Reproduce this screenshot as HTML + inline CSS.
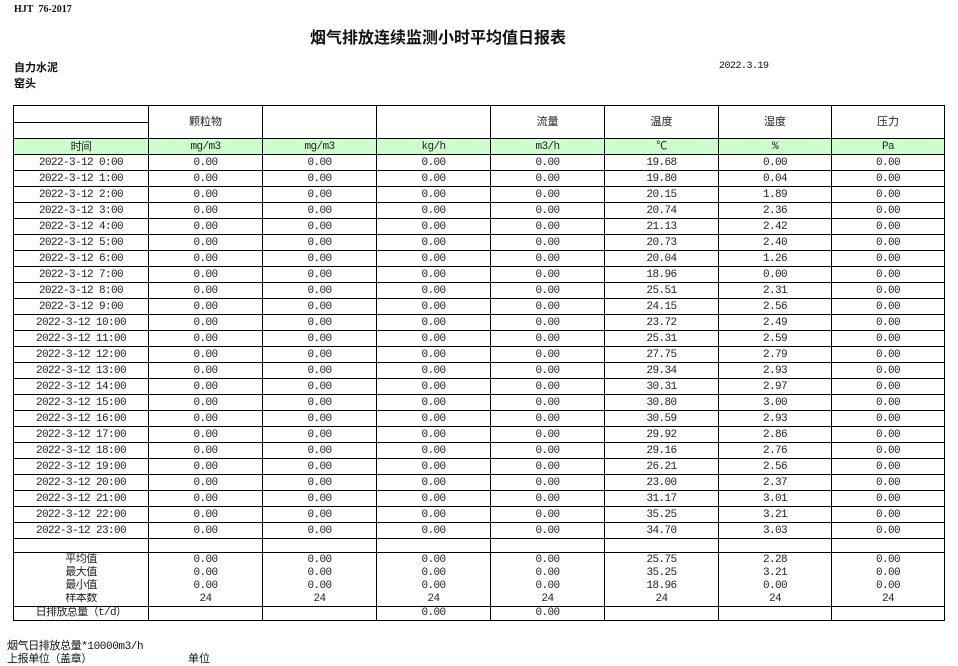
<!DOCTYPE html>
<html><head><meta charset="utf-8"><style>
body{margin:0;width:958px;height:665px;background:#fff;position:relative;overflow:hidden;font-family:"Liberation Mono","Noto Sans CJK SC",monospace;color:#111}
.a{position:absolute;white-space:nowrap}
table{position:absolute;left:13px;top:105px;border-collapse:collapse;table-layout:fixed;width:931px}
td{border:1px solid #000;padding:0;text-align:center;font-size:11px;letter-spacing:-0.6px;line-height:12px;overflow:hidden;white-space:nowrap;font-family:"Liberation Mono","Noto Sans CJK SC",monospace;color:#222}
tr.d td{height:15px}
tr.s td{height:13.2px;line-height:12px}
.g td{background:#ccffcc}
.h td{font-family:"Liberation Sans","Noto Sans CJK SC",sans-serif;letter-spacing:0}
</style></head><body>
<div class="a" style="left:14px;top:4px;font-size:10px;font-weight:bold;font-family:'Liberation Serif',serif">HJT&nbsp;&nbsp;76-2017</div>
<div class="a" style="left:310px;top:24px;font-size:16px;font-weight:bold;font-family:'Liberation Sans','Noto Sans CJK SC',sans-serif">烟气排放连续监测小时平均值日报表</div>
<div class="a" style="left:14px;top:59px;font-size:11px;font-weight:bold;font-family:'Liberation Sans','Noto Sans CJK SC',sans-serif">自力水泥</div>
<div class="a" style="left:14px;top:75px;font-size:11px;font-weight:bold;font-family:'Liberation Sans','Noto Sans CJK SC',sans-serif">窑头</div>
<div class="a" style="left:719px;top:61px;font-size:10px;letter-spacing:-0.5px">2022.3.19</div>
<table>
<colgroup><col style="width:135px"><col style="width:114px"><col style="width:114px"><col style="width:114px"><col style="width:114px"><col style="width:114px"><col style="width:113px"><col style="width:113px"></colgroup>
<tr class="h" style="height:17px"><td style="height:16px"></td><td rowspan="2">颗粒物</td><td rowspan="2"></td><td rowspan="2"></td><td rowspan="2">流量</td><td rowspan="2">温度</td><td rowspan="2">湿度</td><td rowspan="2">压力</td></tr>
<tr style="height:16px"><td style="height:15px"></td></tr>
<tr class="g d"><td style="font-family:'Liberation Sans','Noto Sans CJK SC',sans-serif">时间</td><td>mg/m3</td><td>mg/m3</td><td>kg/h</td><td>m3/h</td><td>℃</td><td>%</td><td>Pa</td></tr>
<tr class="d"><td>2022-3-12 0:00</td><td>0.00</td><td>0.00</td><td>0.00</td><td>0.00</td><td>19.68</td><td>0.00</td><td>0.00</td></tr>
<tr class="d"><td>2022-3-12 1:00</td><td>0.00</td><td>0.00</td><td>0.00</td><td>0.00</td><td>19.80</td><td>0.04</td><td>0.00</td></tr>
<tr class="d"><td>2022-3-12 2:00</td><td>0.00</td><td>0.00</td><td>0.00</td><td>0.00</td><td>20.15</td><td>1.89</td><td>0.00</td></tr>
<tr class="d"><td>2022-3-12 3:00</td><td>0.00</td><td>0.00</td><td>0.00</td><td>0.00</td><td>20.74</td><td>2.36</td><td>0.00</td></tr>
<tr class="d"><td>2022-3-12 4:00</td><td>0.00</td><td>0.00</td><td>0.00</td><td>0.00</td><td>21.13</td><td>2.42</td><td>0.00</td></tr>
<tr class="d"><td>2022-3-12 5:00</td><td>0.00</td><td>0.00</td><td>0.00</td><td>0.00</td><td>20.73</td><td>2.40</td><td>0.00</td></tr>
<tr class="d"><td>2022-3-12 6:00</td><td>0.00</td><td>0.00</td><td>0.00</td><td>0.00</td><td>20.04</td><td>1.26</td><td>0.00</td></tr>
<tr class="d"><td>2022-3-12 7:00</td><td>0.00</td><td>0.00</td><td>0.00</td><td>0.00</td><td>18.96</td><td>0.00</td><td>0.00</td></tr>
<tr class="d"><td>2022-3-12 8:00</td><td>0.00</td><td>0.00</td><td>0.00</td><td>0.00</td><td>25.51</td><td>2.31</td><td>0.00</td></tr>
<tr class="d"><td>2022-3-12 9:00</td><td>0.00</td><td>0.00</td><td>0.00</td><td>0.00</td><td>24.15</td><td>2.56</td><td>0.00</td></tr>
<tr class="d"><td>2022-3-12 10:00</td><td>0.00</td><td>0.00</td><td>0.00</td><td>0.00</td><td>23.72</td><td>2.49</td><td>0.00</td></tr>
<tr class="d"><td>2022-3-12 11:00</td><td>0.00</td><td>0.00</td><td>0.00</td><td>0.00</td><td>25.31</td><td>2.59</td><td>0.00</td></tr>
<tr class="d"><td>2022-3-12 12:00</td><td>0.00</td><td>0.00</td><td>0.00</td><td>0.00</td><td>27.75</td><td>2.79</td><td>0.00</td></tr>
<tr class="d"><td>2022-3-12 13:00</td><td>0.00</td><td>0.00</td><td>0.00</td><td>0.00</td><td>29.34</td><td>2.93</td><td>0.00</td></tr>
<tr class="d"><td>2022-3-12 14:00</td><td>0.00</td><td>0.00</td><td>0.00</td><td>0.00</td><td>30.31</td><td>2.97</td><td>0.00</td></tr>
<tr class="d"><td>2022-3-12 15:00</td><td>0.00</td><td>0.00</td><td>0.00</td><td>0.00</td><td>30.80</td><td>3.00</td><td>0.00</td></tr>
<tr class="d"><td>2022-3-12 16:00</td><td>0.00</td><td>0.00</td><td>0.00</td><td>0.00</td><td>30.59</td><td>2.93</td><td>0.00</td></tr>
<tr class="d"><td>2022-3-12 17:00</td><td>0.00</td><td>0.00</td><td>0.00</td><td>0.00</td><td>29.92</td><td>2.86</td><td>0.00</td></tr>
<tr class="d"><td>2022-3-12 18:00</td><td>0.00</td><td>0.00</td><td>0.00</td><td>0.00</td><td>29.16</td><td>2.76</td><td>0.00</td></tr>
<tr class="d"><td>2022-3-12 19:00</td><td>0.00</td><td>0.00</td><td>0.00</td><td>0.00</td><td>26.21</td><td>2.56</td><td>0.00</td></tr>
<tr class="d"><td>2022-3-12 20:00</td><td>0.00</td><td>0.00</td><td>0.00</td><td>0.00</td><td>23.00</td><td>2.37</td><td>0.00</td></tr>
<tr class="d"><td>2022-3-12 21:00</td><td>0.00</td><td>0.00</td><td>0.00</td><td>0.00</td><td>31.17</td><td>3.01</td><td>0.00</td></tr>
<tr class="d"><td>2022-3-12 22:00</td><td>0.00</td><td>0.00</td><td>0.00</td><td>0.00</td><td>35.25</td><td>3.21</td><td>0.00</td></tr>
<tr class="d"><td>2022-3-12 23:00</td><td>0.00</td><td>0.00</td><td>0.00</td><td>0.00</td><td>34.70</td><td>3.03</td><td>0.00</td></tr>
<tr><td style="height:13px"></td><td></td><td></td><td></td><td></td><td></td><td></td><td></td></tr>
<tr class="s"><td style="border-bottom:none">平均值</td><td style="border-bottom:none">0.00</td><td style="border-bottom:none">0.00</td><td style="border-bottom:none">0.00</td><td style="border-bottom:none">0.00</td><td style="border-bottom:none">25.75</td><td style="border-bottom:none">2.28</td><td style="border-bottom:none">0.00</td></tr>
<tr class="s"><td style="border-top:none;border-bottom:none">最大值</td><td style="border-top:none;border-bottom:none">0.00</td><td style="border-top:none;border-bottom:none">0.00</td><td style="border-top:none;border-bottom:none">0.00</td><td style="border-top:none;border-bottom:none">0.00</td><td style="border-top:none;border-bottom:none">35.25</td><td style="border-top:none;border-bottom:none">3.21</td><td style="border-top:none;border-bottom:none">0.00</td></tr>
<tr class="s"><td style="border-top:none;border-bottom:none">最小值</td><td style="border-top:none;border-bottom:none">0.00</td><td style="border-top:none;border-bottom:none">0.00</td><td style="border-top:none;border-bottom:none">0.00</td><td style="border-top:none;border-bottom:none">0.00</td><td style="border-top:none;border-bottom:none">18.96</td><td style="border-top:none;border-bottom:none">0.00</td><td style="border-top:none;border-bottom:none">0.00</td></tr>
<tr class="s"><td style="border-top:none">样本数</td><td style="border-top:none">24</td><td style="border-top:none">24</td><td style="border-top:none">24</td><td style="border-top:none">24</td><td style="border-top:none">24</td><td style="border-top:none">24</td><td style="border-top:none">24</td></tr>
<tr class="s"><td>日排放总量（t/d）</td><td></td><td></td><td>0.00</td><td>0.00</td><td></td><td></td><td></td></tr>
</table>
<div class="a" style="left:7px;top:637px;font-size:11px;letter-spacing:-0.4px">烟气日排放总量*10000m3/h</div>
<div class="a" style="left:7px;top:650px;font-size:11px;letter-spacing:-0.4px">上报单位（盖章）</div>
<div class="a" style="left:188px;top:650px;font-size:11px">单位</div>
</body></html>
